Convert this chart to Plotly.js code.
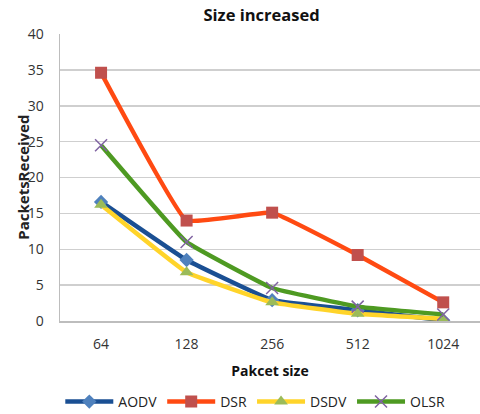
<!DOCTYPE html>
<html><head><meta charset="utf-8">
<script src="https://cdn.plot.ly/plotly-3.0.1.min.js"></script>
<style>html,body{margin:0;padding:0;background:#fff;}</style>
</head><body><div id="chart" style="width:480px;height:414px;"></div>
<script>
var categories = ["64", "128", "256", "512", "1024"];
var aodv = [16.6, 8.5, 2.9, 1.5, 0.1];
var dsr = [34.6, 14.0, 15.1, 9.2, 2.6];
var dsdv = [16.2, 6.8, 2.6, 1.0, 0.3];
var olsr = [24.5, 11.0, 4.6, 2.0, 0.9];
var yTicks = [0, 5, 10, 15, 20, 25, 30, 35, 40];

var FONT = 'Open Sans, sans-serif';
function tr(name, y, lineColor, sym, mColor, msize, mline) {
  return {
    type: 'scatter', mode: 'lines+markers', name: name,
    x: categories, y: y,
    line: {color: lineColor, width: 4.5, shape: 'spline', smoothing: 0.25},
    marker: {symbol: sym, color: mColor, size: msize, line: mline || {width: 0}}
  };
}
var data = [
  tr('AODV', aodv, '#1A4F93', 'diamond', '#4F81BD', 11),
  tr('DSR', dsr, '#FF4A12', 'square', '#C0504D', 12),
  tr('DSDV', dsdv, '#FFD42A', 'triangle-up', '#9BBB59', 12),
  tr('OLSR', olsr, '#4E9A22', 'x-thin', '#8064A2', 12, {color: '#8064A2', width: 1.5})
];
var layout = {
  width: 480, height: 414,
  margin: {l: 60, r: 0, t: 34, b: 93, autoexpand: false},
  paper_bgcolor: '#fff', plot_bgcolor: '#fff',
  font: {family: FONT, color: '#404040'},
  title: {text: '<b>Size increased</b>', x: 0.48, xref: 'paper', xanchor: 'center', y: 0.963, yref: 'container', yanchor: 'middle',
    font: {size: 16.5, color: '#111', family: FONT}},
  xaxis: {
    type: 'category', range: [-0.48, 4.43], automargin: false,
    showgrid: false, showline: true, linecolor: '#BDBDBD', linewidth: 1.5,
    ticks: '', ticklabelstandoff: 10,
    tickfont: {size: 14, color: '#333'},
    title: {text: '<b>Pakcet size</b>', standoff: 14, font: {size: 14, color: '#111'}},
    zeroline: false, fixedrange: true
  },
  yaxis: {
    range: [0, 40], tickvals: yTicks, automargin: false,
    showgrid: true, gridcolor: '#CFCFCF', gridwidth: 1.5,
    showline: true, linecolor: '#BDBDBD', linewidth: 1.5,
    ticks: '', ticklabelstandoff: 12,
    tickfont: {size: 14, color: '#333'},
    zeroline: false, fixedrange: true
  },
  legend: {
    orientation: 'h', x: 0.465, xanchor: 'center', y: 0.029, yref: 'container', yanchor: 'middle',
    font: {size: 14, color: '#222', family: FONT}, itemwidth: 48, tracegroupgap: 0,
    bgcolor: 'rgba(0,0,0,0)'
  },
  annotations: [{
    text: '<b>PacketsReceived</b>', textangle: -90,
    xref: 'paper', x: -0.09, xanchor: 'center',
    yref: 'paper', y: 0.5, yanchor: 'middle',
    showarrow: false, font: {size: 15, color: '#222', family: FONT}
  }],
  showlegend: true
};
Plotly.newPlot('chart', data, layout, {displayModeBar: false, staticPlot: true});
</script>
</body></html>
